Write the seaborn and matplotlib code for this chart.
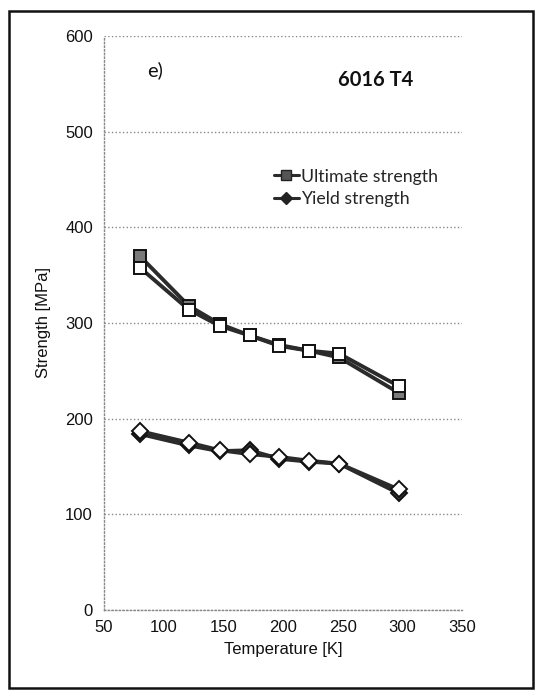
import matplotlib
matplotlib.use("Agg")
import matplotlib.pyplot as plt
from matplotlib.lines import Line2D
from matplotlib.patches import Rectangle
import seaborn as sns
import pandas as pd

# ---- data ----
temperature = [80, 121, 147, 172, 197, 222, 247, 297]
ultimate_a = [370, 318, 299, 287, 277, 271, 264, 227]   # filled grey squares
ultimate_b = [358, 314, 297, 287, 276, 271, 268, 234]   # open squares
yield_a = [184, 172, 166, 167, 158, 155, 153, 122]      # dark diamonds
yield_b = [187, 175, 167, 163, 160, 156, 153, 126]      # open diamonds
x_ticks = [50, 100, 150, 200, 250, 300, 350]
y_ticks = [0, 100, 200, 300, 400, 500, 600]
legend_labels = ["Ultimate strength", "Yield strength"]
panel_label = "e)"
alloy_label = "6016 T4"

sns.set_theme(style="white")
plt.rcParams["font.family"] = ["Liberation Sans", "DejaVu Sans"]

fig = plt.figure(figsize=(5.43, 6.95), dpi=100)
ax = fig.add_axes([104 / 543, 1 - 610 / 695, (462 - 104) / 543, (610 - 36) / 695])

line_col = "#2b2b2b"
series = [
    (ultimate_a, "s", "#7a7a7a", 9),
    (ultimate_b, "s", "white", 9),
    (yield_a, "D", "#3a3a3a", 8),
    (yield_b, "D", "white", 8),
]
for vals, mk, fc, ms in series:
    df = pd.DataFrame({"T": temperature, "S": vals})
    sns.lineplot(data=df, x="T", y="S", ax=ax, color=line_col, linewidth=2.8,
                 marker=mk, markersize=ms, markerfacecolor=fc,
                 markeredgecolor="#111111", markeredgewidth=1.4,
                 legend=False, zorder=3)

ax.set_xlim(50, 350)
ax.set_ylim(0, 600)
ax.set_xticks(x_ticks)
ax.set_yticks(y_ticks)
ax.tick_params(axis="both", labelsize=12, colors="#111111", length=0, pad=8)
ax.tick_params(axis="x", length=3, direction="in", color="#888888", pad=7)
for lab in ax.get_xticklabels() + ax.get_yticklabels():
    lab.set_color("#111111")

ax.yaxis.grid(True, linestyle=":", color="#888888", linewidth=1.0)
ax.xaxis.grid(False)
for side in ["top", "right"]:
    ax.spines[side].set_visible(False)
for side in ["left", "bottom"]:
    ax.spines[side].set_visible(True)
    ax.spines[side].set_linestyle(":")
    ax.spines[side].set_color("#888888")
    ax.spines[side].set_linewidth(1.0)

ax.set_xlabel("Temperature [K]", fontsize=12, color="#111111", labelpad=5)
ax.set_ylabel("Strength [MPa]", fontsize=12, color="#111111", labelpad=10)

ax.text(0.12, 0.941, panel_label, transform=ax.transAxes, fontsize=14.5,
        family=["Lato", "DejaVu Sans"], color="#111111", va="center")
ax.text(0.76, 0.923, alloy_label, transform=ax.transAxes, fontsize=14.5,
        family=["Lato", "DejaVu Sans"], fontweight="bold", color="#111111",
        va="center", ha="center")

handles = [
    Line2D([], [], color=line_col, linewidth=2.2, marker="s", markersize=6.5,
           markerfacecolor="#555555", markeredgecolor="#222222"),
    Line2D([], [], color=line_col, linewidth=2.2, marker="D", markersize=6,
           markerfacecolor="#222222", markeredgecolor="#222222"),
]
leg = ax.legend(handles, legend_labels, loc="upper left",
                bbox_to_anchor=(0.43, 0.797), frameon=False,
                handlelength=1.4, handletextpad=0.1, labelspacing=0.35,
                prop={"family": ["Lato", "DejaVu Sans"], "size": 12.8})

# scanned frame around the figure
fig.patches.append(Rectangle((9 / 543, 7 / 695), (533 - 9) / 543, (684 - 7) / 695,
                             transform=fig.transFigure, fill=False,
                             edgecolor="#111111", linewidth=1.8))

fig.savefig("out.png", dpi=100)
